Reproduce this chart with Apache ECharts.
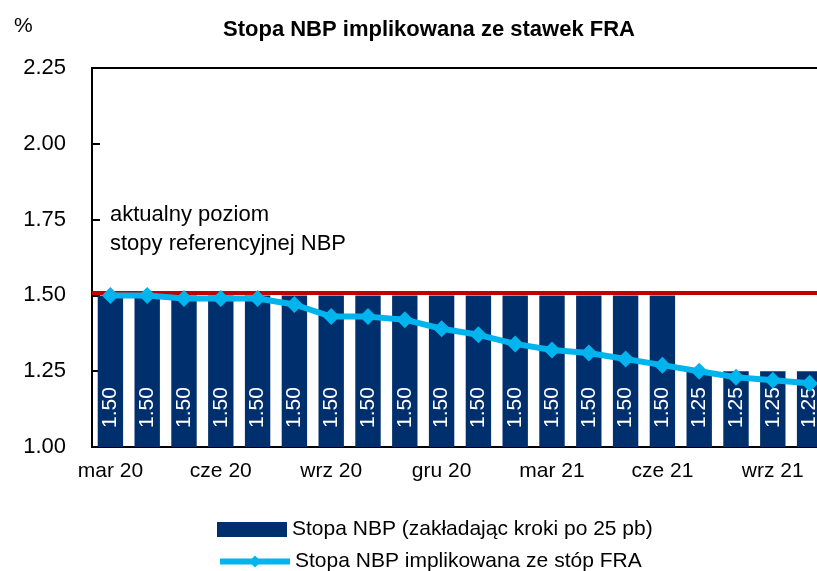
<!DOCTYPE html>
<html lang="pl">
<head>
	<meta charset="UTF-8">
	<title>Stopa NBP implikowana ze stawek FRA</title>
	<script type="text/javascript" src="https://cdn.jsdelivr.net/npm/echarts@6/dist/echarts.min.js"></script>
	<style>
		html, body { margin: 0; padding: 0; background: #fff; }
		#main { width: 817px; height: 571px; }
	</style>
</head>
<body>
	<div id="main"></div>
	<script type="text/javascript">
	// miesiace od mar 20 do paz 21
	var months = ['mar 20', 'kwi 20', 'maj 20', 'cze 20', 'lip 20', 'sie 20', 'wrz 20', 'paź 20', 'lis 20', 'gru 20',
		'sty 21', 'lut 21', 'mar 21', 'kwi 21', 'maj 21', 'cze 21', 'lip 21', 'sie 21', 'wrz 21', 'paź 21'];
	// stopa NBP przy krokach po 25 pb
	var stepRate = [1.50, 1.50, 1.50, 1.50, 1.50, 1.50, 1.50, 1.50, 1.50, 1.50,
		1.50, 1.50, 1.50, 1.50, 1.50, 1.50, 1.25, 1.25, 1.25, 1.25];
	// stopa implikowana z FRA
	var fraRate = [1.50, 1.50, 1.49, 1.49, 1.49, 1.47, 1.43, 1.43, 1.42, 1.39,
		1.37, 1.34, 1.32, 1.31, 1.29, 1.27, 1.25, 1.23, 1.22, 1.21];
	// aktualny poziom stopy referencyjnej (linia)
	var currentRate = 1.515;
	var yTicks = [1.00, 1.25, 1.50, 1.75, 2.00, 2.25];

	var barName = 'Stopa NBP (zakładając kroki po 25 pb)';
	var lineName = 'Stopa NBP implikowana ze stóp FRA';
	var font = "'Liberation Sans', Arial, sans-serif";
	var legendText = { fontFamily: font, fontSize: 21, color: '#000' };

	var myChart = echarts.init(document.getElementById('main'));
	var option = {
		animation: false,
		backgroundColor: '#fff',
		title: {
			text: 'Stopa NBP implikowana ze stawek FRA',
			left: 218,
			top: 14,
			textStyle: { fontFamily: font, fontSize: 22, fontWeight: 'bold', color: '#000' }
		},
		graphic: [
			{ type: 'text', left: 14, top: 16, style: { text: '%', font: '21px ' + font, fill: '#000' } },
			{ type: 'text', left: 110, top: 200, style: { text: 'aktualny poziom\nstopy referencyjnej NBP', font: '22px ' + font, fill: '#000', lineHeight: 29 } }
		],
		// dwie legendy jedna pod druga
		legend: [
			{
				left: 212, top: 514,
				itemWidth: 70, itemHeight: 15,
				textStyle: legendText,
				data: [{ name: barName, icon: 'rect' }]
			},
			{
				left: 212, top: 546,
				itemWidth: 70, itemHeight: 15,
				textStyle: legendText,
				lineStyle: { width: 6 },
				data: [lineName]
			}
		],
		grid: {
			left: 92,
			top: 68,
			bottom: 124,
			right: -11,
			outerBoundsMode: 'none',
			containLabel: false,
			show: true,
			borderColor: '#000',
			borderWidth: 2
		},
		xAxis: {
			type: 'category',
			data: months,
			boundaryGap: true,
			axisLine: { lineStyle: { color: '#000', width: 2 } },
			axisTick: { inside: true, length: 9, interval: 2, lineStyle: { color: '#000', width: 2 } },
			axisLabel: { interval: 2, margin: 14, fontFamily: font, fontSize: 21, color: '#000' }
		},
		yAxis: {
			type: 'value',
			min: yTicks[0],
			max: yTicks[yTicks.length - 1],
			interval: 0.25,
			splitLine: { show: false },
			axisLine: { show: true, lineStyle: { color: '#000', width: 2 } },
			axisTick: { show: true, inside: true, length: 8, lineStyle: { color: '#000', width: 2 } },
			axisLabel: {
				margin: 26,
				fontFamily: font, fontSize: 22, color: '#000',
				formatter: function (v) { return v.toFixed(2); }
			}
		},
		series: [
			{
				name: barName,
				type: 'bar',
				data: stepRate,
				barCategoryGap: '31%',
				itemStyle: { color: '#002F6E' },
				label: {
					show: true,
					position: 'insideBottom',
					rotate: 90,
					align: 'left',
					verticalAlign: 'middle',
					distance: 19,
					fontFamily: font,
					fontSize: 21,
					color: '#fff',
					formatter: function (p) { return p.value.toFixed(2); }
				},
				markLine: {
					silent: true,
					symbol: 'none',
					label: { show: false },
					lineStyle: { color: '#C00000', width: 4, type: 'solid' },
					data: [{ yAxis: currentRate }]
				},
				z: 2
			},
			{
				name: lineName,
				type: 'line',
				data: fraRate,
				symbol: 'diamond',
				symbolSize: 17,
				lineStyle: { color: '#00B4EE', width: 6 },
				itemStyle: { color: '#00B4EE' },
				z: 5
			}
		]
	};
	myChart.setOption(option);
	</script>
</body>
</html>
